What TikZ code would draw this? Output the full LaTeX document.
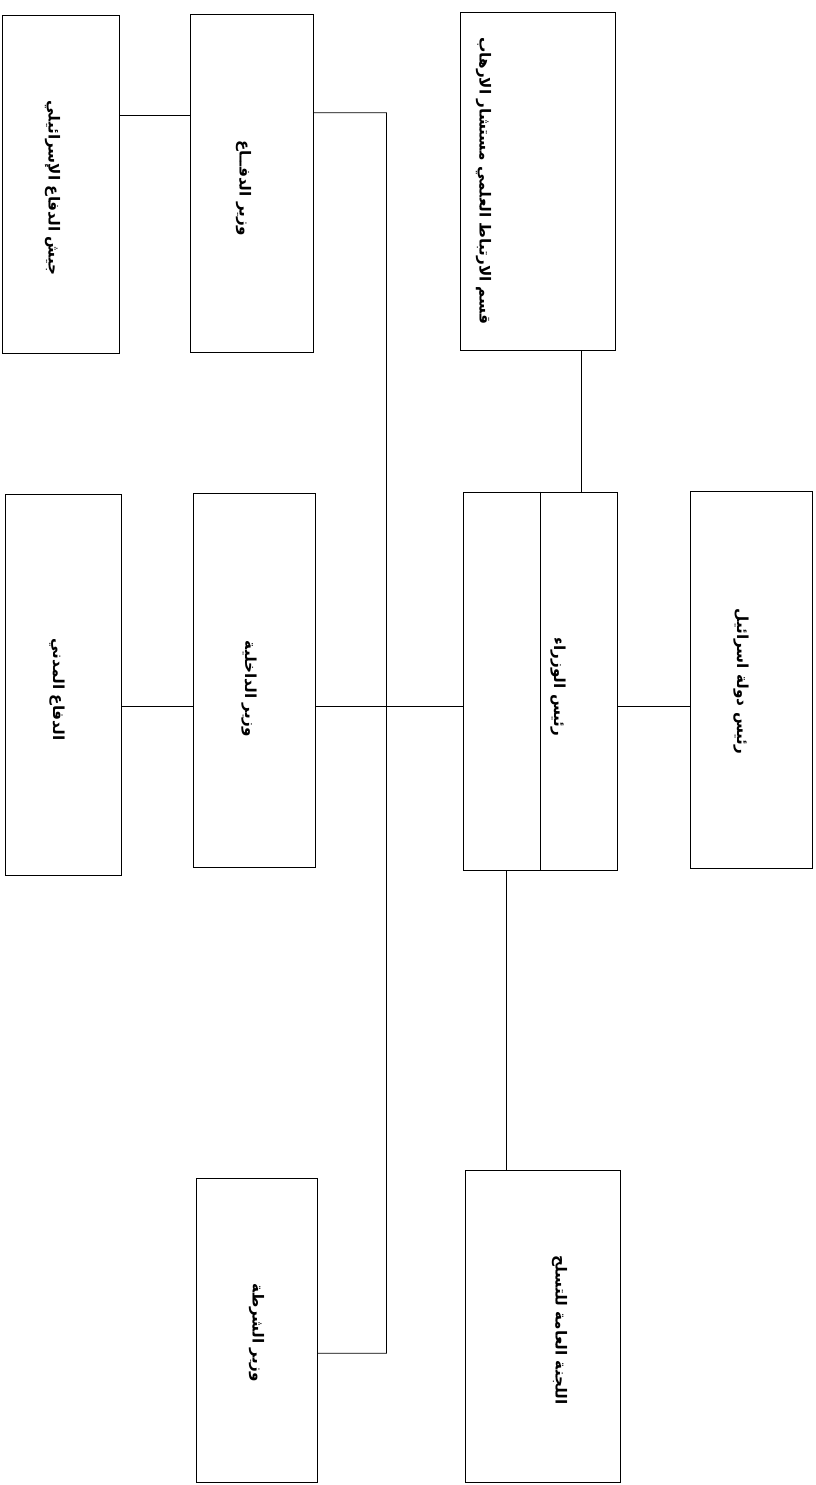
\documentclass[tikz,border=0pt]{standalone}
\usepackage{fontspec}
\usetikzlibrary{calc}
\usetikzlibrary{positioning}
\newfontfamily\arabicfont[Script=Arabic]{DejaVu Sans}
\TeXXeTstate=1
\tikzstyle{orgbox} = [draw, rectangle, line width=0.8pt, inner sep=0pt]
\tikzstyle{orglabel} = [rotate=-90, inner sep=0pt, font={\arabicfont\bfseries\fontsize{13}{15}\selectfont}]
\tikzstyle{link} = [line width=0.6pt]

\begin{document}
\begin{tikzpicture}[x=0.03cm, y=-0.03cm]
\useasboundingbox (0,0) rectangle (816,1485);
% boxes
\node[orgbox, minimum width=3.51cm, minimum height=10.14cm] (army) at (60.5,184) {};
\node[orgbox, minimum width=3.48cm, minimum height=11.43cm] (civil) at (63,684.5) {};
\node[orgbox, minimum width=3.69cm, minimum height=10.14cm] (defmin) at (251.5,183) {};
\node[orgbox, minimum width=3.66cm, minimum height=11.22cm] (intmin) at (254,680) {};
\node[orgbox, minimum width=3.63cm, minimum height=9.12cm] (polmin) at (256.5,1330) {};
\node[orgbox, minimum width=4.65cm, minimum height=10.14cm] (liaison) at (537.5,181) {};
\node[orgbox, minimum width=4.62cm, minimum height=11.34cm] (pm) at (540,681) {};
\node[orgbox, minimum width=4.65cm, minimum height=9.36cm] (arms) at (542.5,1326) {};
\node[orgbox, minimum width=3.66cm, minimum height=11.31cm] (pres) at (751,679.5) {};
\draw[link] (pm.north) -- (pm.south);

% labels
\node[orglabel] (army_txt) at ($(army)+(-8,4)$) {\beginR جيش الدفاع الإسرائيلي\endR};
\node[orglabel] (civil_txt) at ($(civil)+(-6,5)$) {\beginR الدفاع المدني\endR};
\node[orglabel] (defmin_txt) at ($(defmin)+(-8,5)$) {\beginR وزير الدفــاع\endR};
\node[orglabel] (intmin_txt) at ($(intmin)+(-5,9)$) {\beginR وزير الداخلية\endR};
\node[orglabel] (polmin_txt) at ($(polmin)+(0,3)$) {\beginR وزير الشرطة\endR};
\node[orglabel] (liaison_txt) at ($(liaison)+(-54,0)$) {\beginR قسم الارتباط العلمي مستشار الارهاب\endR};
\node[orglabel] (pm_txt) at ($(pm)+(18,6)$) {\beginR رئيس الوزراء\endR};
\node[orglabel] (arms_txt) at ($(arms)+(17,4)$) {\beginR اللجنة العامة للتسلح\endR};
\node[orglabel] (pres_txt) at ($(pres)+(-10,2)$) {\beginR رئيس دولة اسرائيل\endR};

% connectors
\coordinate (def_in) at ($(defmin.north west)!0.3!(defmin.south west)$);
\draw[link] (army.east |- def_in) -- (def_in);
\coordinate (def_out) at ($(defmin.north east)!0.293!(defmin.south east)$);
\coordinate (bus) at ($(def_out)!0.5!(liaison.west |- def_out)$);
\coordinate (pol_in) at ($(polmin.north east)!0.576!(polmin.south east)$);
\draw[link] (def_out) -- (bus) |- (pol_in);
\coordinate (pm_in) at ($(pm.north west)!0.566!(pm.south west)$);
\draw[link] (civil.east |- pm_in) -- (intmin.west |- pm_in);
\draw[link] (intmin.east |- pm_in) -- (pm_in);
\draw[link] (pm.east |- pm_in) -- (pres.west |- pm_in);
\coordinate (lia_out) at ($(liaison.south west)!0.78!(liaison.south east)$);
\draw[link] (lia_out) -- (pm.north -| lia_out);
\coordinate (pm_out) at ($(pm.south west)!0.286!(pm.south east)$);
\draw[link] (pm_out) -- (arms.north -| pm_out);
\end{tikzpicture}
\end{document}
